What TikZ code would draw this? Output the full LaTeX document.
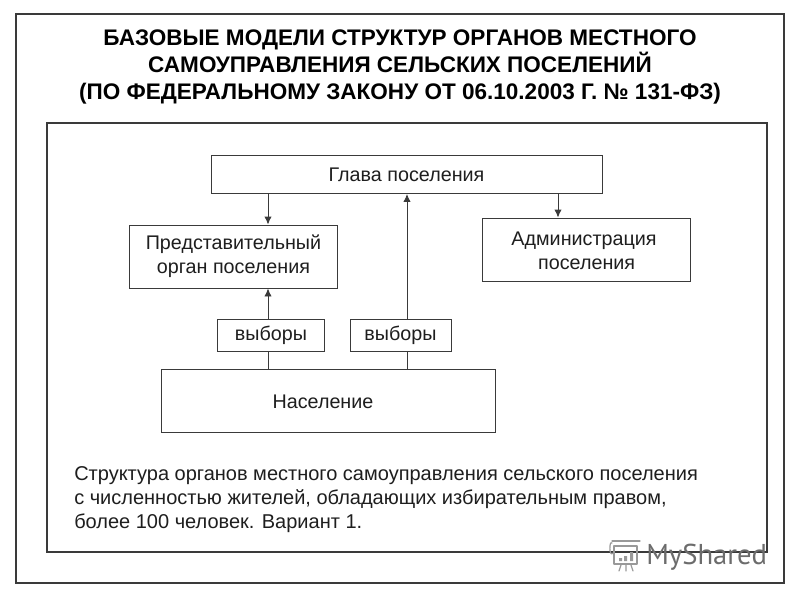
\documentclass[tikz,border=0pt]{standalone}
\usepackage{fontspec}
\setmainfont{Liberation Sans}
\newfontfamily\wmfont{PT Sans}
\usetikzlibrary{arrows.meta,calc}
\definecolor{ln}{HTML}{3A3A3A}
\definecolor{tx}{HTML}{1E1E1E}
\tikzset{
  px/.style={x=0.75pt,y=-0.75pt},
  box/.style={draw=ln,line width=0.7pt,fill=white,inner sep=0pt,align=center,text=tx,font=\fontsize{14.8}{18.2}\selectfont},
  frame/.style={draw=ln,line width=0.8pt},
  conn/.style={draw=ln,line width=0.7pt},
  arr/.style={conn,-{Latex[length=6pt,width=5.5pt]}},
  ttl/.style={inner sep=0pt,align=center,text=black,font=\fontsize{16.9}{20.25}\selectfont\bfseries},
  para/.style={inner sep=0pt,align=left,anchor=north west,text=tx,font=\fontsize{15}{18}\selectfont},
  lbl/.style={inner sep=0pt,align=center,text=tx,font=\fontsize{14.8}{18.2}\selectfont},
  wm/.style={draw=gray!80,line width=0.9pt,line cap=round,line join=round}
}
\newcommand{\boxat}[6]{\node[box,minimum width=#4*0.75pt,minimum height=#5*0.75pt] (#1) at (#2,#3) {#6};}
\begin{document}
\begin{tikzpicture}[px]
\useasboundingbox (0,0) rectangle (800,600);
\fill[white] (0,0) rectangle (800,600);
\draw[frame] (16,14) rectangle (784,583);
\draw[frame] (47,123) rectangle (767,552);
\node[ttl] (title) at (400,67) {БАЗОВЫЕ МОДЕЛИ СТРУКТУР ОРГАНОВ МЕСТНОГО\\САМОУПРАВЛЕНИЯ СЕЛЬСКИХ ПОСЕЛЕНИЙ\\(ПО ФЕДЕРАЛЬНОМУ ЗАКОНУ ОТ 06.10.2003 Г. № 131-ФЗ)};
\boxat{glava}{406.5}{174.5}{391}{38}{Глава поселения}
\boxat{pred}{233.5}{256.5}{208}{63}{Представительный\\орган поселения}
\boxat{adm}{586}{249.5}{208}{63}{}
\node[lbl] (admt) at (584,250.5) {Администрация\hspace{4pt}\\\hspace{4pt}поселения};
\boxat{v1}{271}{335.5}{107}{32}{выборы}
\boxat{v2}{400.5}{335.5}{101}{32}{выборы}
\boxat{nas}{328}{401}{334}{63}{}
\node[lbl] (nast) at (323,402) {Население};
\coordinate (x1) at (268,0);
\coordinate (x2) at (407,0);
\coordinate (x3) at (558,0);
\draw[arr] (glava.south -| x1) -- (pred.north -| x1);
\draw[arr] (glava.south -| x3) -- (adm.north -| x3);
\draw[arr] (v1.north -| x1) -- (pred.south -| x1);
\draw[arr] (v2.north -| x2) -- (glava.south -| x2);
\draw[conn] (nas.north -| x1) -- (v1.south -| x1);
\draw[conn] (nas.north -| x2) -- (v2.south -| x2);
\node[para] (note) at (74,466) {Структура органов местного самоуправления сельского поселения\\с численностью жителей, обладающих избирательным правом,\\более 100 человек. Вариант 1.};
% watermark
\draw[wm] (612,543) .. controls (609,540) and (609,558) .. (613,553);
\draw[wm] (612,541) -- (640,541);
\draw[wm] (614,546) rectangle (637,564);
\draw[wm] (621,565) -- (619,571) (626,565) -- (626,571) (631,565) -- (633,571);
\fill[gray!80] (619,558) rectangle (622,561) (624,556) rectangle (627,561) (630,552) rectangle (633,561);
\node[inner sep=0pt,anchor=base west,text=gray!85!black,font=\wmfont\fontsize{21.5}{21.5}\selectfont] (wmark) at (646,564) {MyShared};
\end{tikzpicture}
\end{document}
